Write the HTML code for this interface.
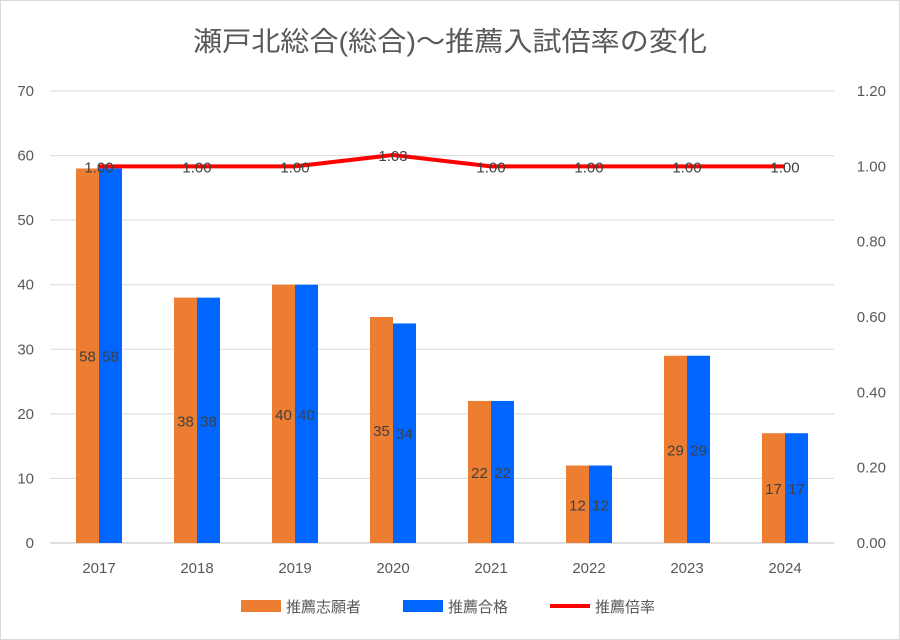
<!DOCTYPE html>
<html><head><meta charset="utf-8"><style>
body{margin:0;background:#fff;}
svg{display:block;font-family:"Liberation Sans","Noto Sans CJK JP",sans-serif;}
</style></head><body>
<svg id="c" width="900" height="640">
<rect x="0.5" y="0.5" width="899" height="639" fill="#fff" stroke="#d9d9d9"/>
<text x="193" y="51" font-size="27" textLength="514" lengthAdjust="spacingAndGlyphs" fill="#595959">瀬戸北総合(総合)～推薦入試倍率の変化</text>
<g id="grid"></g><g id="bars"></g><g id="line"></g><g id="labels"></g><g id="axes"></g>
<g>
<rect x="241" y="600" width="40" height="12" fill="#ed7d31"/>
<text x="286" y="612" font-size="15" fill="#595959">推薦志願者</text>
<rect x="403" y="600" width="40" height="12" fill="#0066ff"/>
<text x="448" y="612" font-size="15" fill="#595959">推薦合格</text>
<line x1="550" y1="606" x2="590" y2="606" stroke="#ff0000" stroke-width="4"/>
<text x="595" y="612" font-size="15" fill="#595959">推薦倍率</text>
</g>
</svg>
<script>
const categories=["2017","2018","2019","2020","2021","2022","2023","2024"];
const applicants=[58,38,40,35,22,12,29,17];
const passed=[58,38,40,34,22,12,29,17];
const ratio=[1.00,1.00,1.00,1.03,1.00,1.00,1.00,1.00];
const leftTicks=[0,10,20,30,40,50,60,70];
const rightTicks=["0.00","0.20","0.40","0.60","0.80","1.00","1.20"];
const NS="http://www.w3.org/2000/svg";
const X0=50,X1=834,Y0=543,Y1=91;
const step=(X1-X0)/categories.length;
const xc=i=>X0+step*(i+0.5);
const yl=v=>Y0-(v/70)*(Y0-Y1);
const yr=v=>Y0-(v/1.2)*(Y0-Y1);
function mk(p,t,a){const e=document.createElementNS(NS,t);for(const k in a)e.setAttribute(k,a[k]);document.getElementById(p).appendChild(e);return e;}
leftTicks.forEach(v=>{
 const g=mk('grid','line',{x1:X0,x2:X1,y1:yl(v),y2:yl(v),stroke:v===0?'#bfbfbf':'#d9d9d9','stroke-width':1});
 
 
 const t=mk('axes','text',{x:34,y:yl(v)+5,'text-anchor':'end','font-size':15,fill:'#595959'});
 t.textContent=v;
 
 
});
rightTicks.forEach(s=>{
 const t=mk('axes','text',{x:886,y:yr(parseFloat(s))+5,'text-anchor':'end','font-size':15,fill:'#595959'});
 t.textContent=s;
 
 
});
const bw=23;
categories.forEach((c,i)=>{
 const t=mk('axes','text',{x:xc(i),y:573,'text-anchor':'middle','font-size':15,fill:'#595959'});
 t.textContent=c;
 
 
 const a=mk('bars','rect',{x:xc(i)-bw,y:yl(applicants[i]),width:bw,height:Y0-yl(applicants[i]),fill:'#ed7d31'});
 
 
 const b=mk('bars','rect',{x:xc(i),y:yl(passed[i]),width:bw,height:Y0-yl(passed[i]),fill:'#0066ff'});
 
 
 const la=mk('labels','text',{x:xc(i)-bw/2,y:(yl(applicants[i])+Y0)/2+6,'text-anchor':'middle','font-size':15,fill:'#404040'});
 la.textContent=applicants[i];
 
 
 const lb=mk('labels','text',{x:xc(i)+bw/2,y:(yl(passed[i])+Y0)/2+6,'text-anchor':'middle','font-size':15,fill:'#404040'});
 lb.textContent=passed[i];
 
 
 const lr=mk('labels','text',{x:xc(i),y:yr(ratio[i])+6,'text-anchor':'middle','font-size':15,fill:'#404040'});
 lr.textContent=ratio[i].toFixed(2);
 
 
});
const pl=mk('line','polyline',{points:ratio.map((v,i)=>xc(i)+','+yr(v)).join(' '),fill:'none',stroke:'#ff0000','stroke-width':4,'stroke-linejoin':'round'});


</script>
</body></html>
